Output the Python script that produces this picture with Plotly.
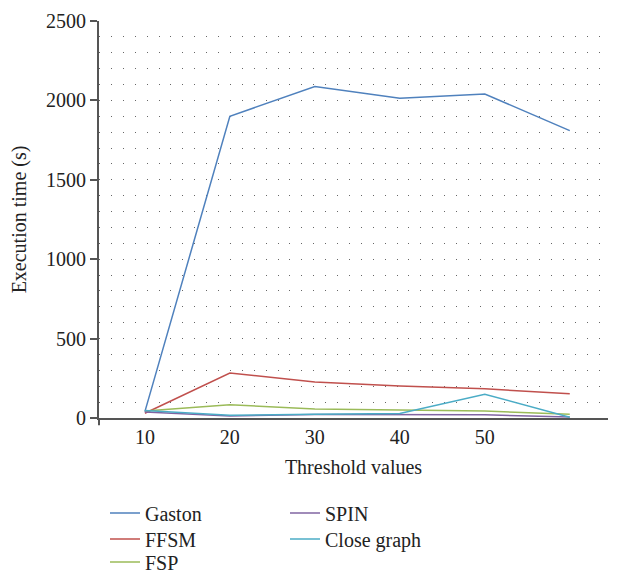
import plotly.graph_objects as go

thresholds = [10, 20, 30, 40, 50, 60]
gaston = [40, 1900, 2088, 2013, 2040, 1810]
ffsm = [30, 283, 227, 202, 184, 152]
fsp = [44, 84, 57, 50, 44, 23]
spin = [38, 13, 22, 22, 20, 6]
close_graph = [48, 18, 23, 28, 150, 5]

series_names = ["Gaston", "FFSM", "FSP", "SPIN", "Close graph"]
series_values = [gaston, ffsm, fsp, spin, close_graph]
series_colors = ["#4F81BD", "#C0504D", "#9BBB59", "#8064A2", "#4BACC6"]
# legend slot for each series (column, row)
legend_slots = [(0, 0), (0, 1), (0, 2), (1, 0), (1, 1)]

FONT = "Liberation Serif"
FS = 20
TXT = "#222"

W, H = 621, 574
ML, MR, MT, MB = 99, 13, 21, 156
PW, PH = W - ML - MR, H - MT - MB

fig = go.Figure()
layout_legends = {}
col_px = [105, 285]
row_px = [513, 539, 562]
for i, (name, vals, color, slot) in enumerate(zip(series_names, series_values, series_colors, legend_slots)):
    lg = "legend" if i == 0 else f"legend{i + 1}"
    fig.add_trace(go.Scatter(
        x=thresholds, y=vals, mode="lines", name=name,
        line=dict(color=color, width=1.5), legend=lg,
    ))
    cx, ry = col_px[slot[0]], row_px[slot[1]]
    layout_legends[lg] = dict(
        x=(cx - ML) / PW, y=(H - MB - ry) / PH,
        xanchor="left", yanchor="middle",
        font=dict(family=FONT, size=FS, color=TXT),
        bgcolor="rgba(0,0,0,0)", itemwidth=30,
    )

fig.update_layout(
    width=W, height=H,
    margin=dict(l=ML, r=MR, t=MT, b=MB, autoexpand=False),
    paper_bgcolor="white", plot_bgcolor="white",
    font=dict(family=FONT, size=FS, color=TXT),
    showlegend=True,
    xaxis=dict(
        range=[4.6, 64.5], tickvals=[10, 20, 30, 40, 50], ticktext=["10", "20", "30", "40", "50"],
        showgrid=False, zeroline=False, showline=True, linecolor="#555", linewidth=2,
        ticks="", tickangle=0, tickfont=dict(family=FONT, size=FS, color=TXT),
        title=dict(text="Threshold values", font=dict(family=FONT, size=FS, color=TXT), standoff=13),
    ),
    yaxis=dict(
        range=[0, 2500], tickvals=[0, 500, 1000, 1500, 2000, 2500],
        showgrid=True, gridcolor="#666", gridwidth=1, griddash="1px,10.9px",
        minor=dict(dtick=100, showgrid=True, gridcolor="#666", gridwidth=1, griddash="1px,10.9px"),
        zeroline=False, showline=True, linecolor="#555", linewidth=2,
        ticks="outside", ticklen=7, tickwidth=1.5, tickcolor="#555",
        tickfont=dict(family=FONT, size=FS, color=TXT),
        title=dict(text="Execution time (s)", font=dict(family=FONT, size=FS, color=TXT), standoff=14),
    ),
    **layout_legends,
)

# small overhang of axis lines past the origin
fig.add_shape(type="line", xref="paper", yref="paper", x0=-0.014, x1=0, y0=0, y1=0,
              line=dict(color="#555", width=2))
fig.add_shape(type="line", xref="paper", yref="paper", x0=0, x1=0, y0=-0.018, y1=0,
              line=dict(color="#555", width=2))

fig.write_html("out.html")
